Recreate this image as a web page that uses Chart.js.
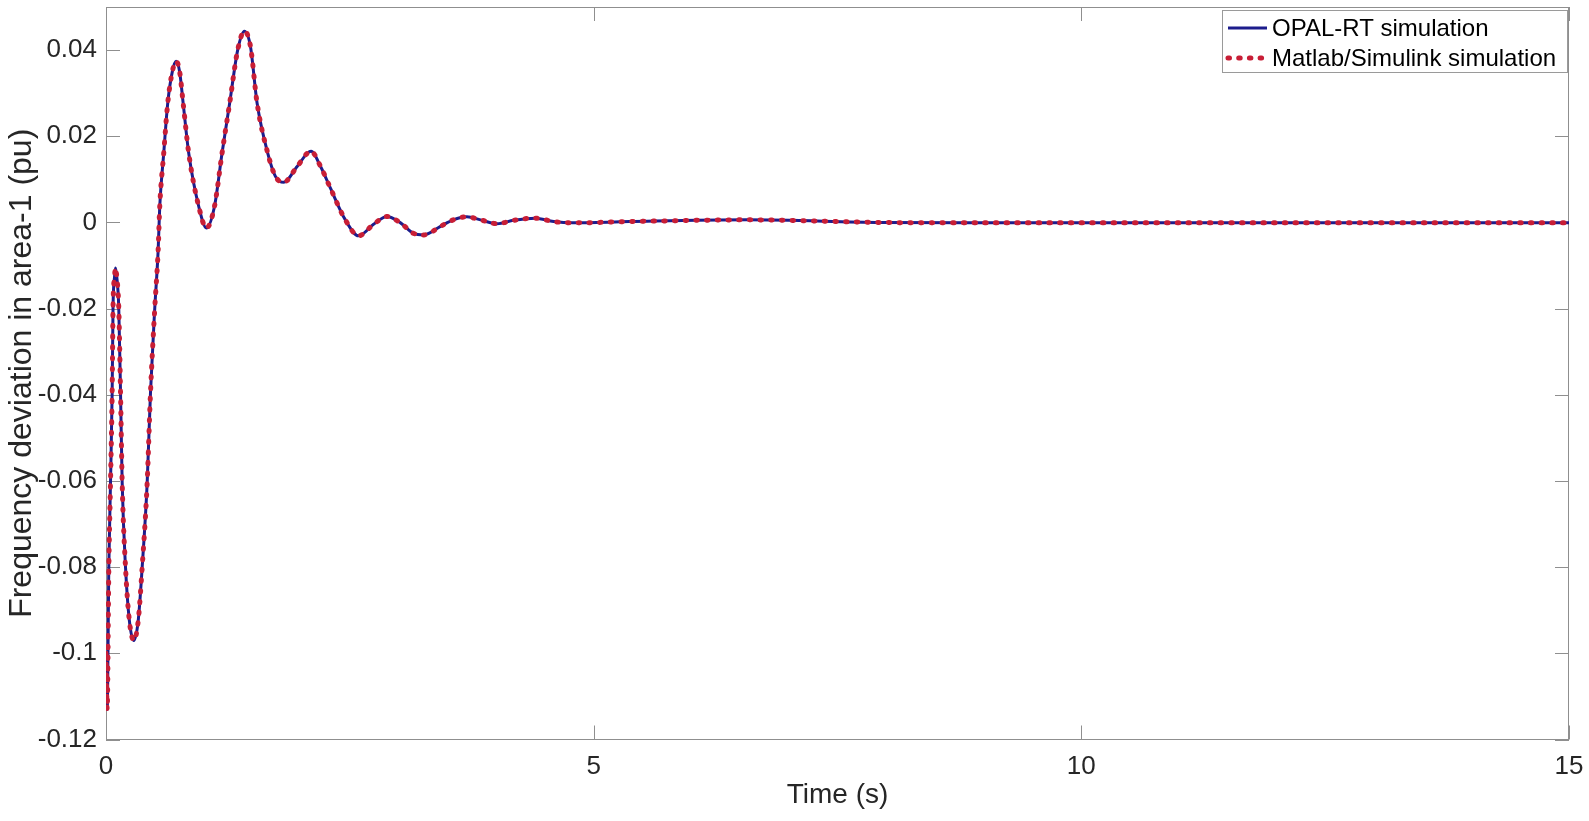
<!DOCTYPE html>
<html>
<head>
<meta charset="utf-8">
<title>Frequency deviation in area-1</title>
<script src="https://cdn.jsdelivr.net/npm/chart.js@4/dist/chart.umd.min.js"></script>
<style>
  html, body { margin: 0; padding: 0; background: #fff; }
  #wrap { position: relative; width: 1589px; height: 821px; }
</style>
</head>
<body>
<div id="wrap"><canvas id="freq-chart"></canvas></div>
<script>
/* freq-chart — OPAL-RT vs Matlab/Simulink, area-1 frequency deviation */

// ── DATA ──────────────────────────────────────────────────────────────────────
const timeS = [
  0.000, 0.012, 0.029, 0.046, 0.063, 0.072, 0.088, 0.097, 0.110, 0.131,
  0.149, 0.166, 0.200, 0.240, 0.285, 0.330, 0.371, 0.422, 0.456, 0.500,
  0.535, 0.551, 0.592, 0.633, 0.680, 0.719, 0.755, 0.791, 0.848, 0.951,
  1.030, 1.112, 1.190, 1.268, 1.350, 1.419, 1.480, 1.549, 1.658, 1.737,
  1.822, 1.960, 2.102, 2.200, 2.300, 2.454, 2.590, 2.740, 2.880, 3.020,
  3.150, 3.260, 3.430, 3.560, 3.700, 3.840, 4.010, 4.180, 4.400, 4.590,
  4.780, 5.370, 6.570, 7.940, 9.000, 10.000, 11.000, 12.000, 13.000, 14.000,
  15.000
];

const opalRt = [
  -0.1000, -0.1130, -0.0800, -0.0605, -0.0396, -0.0200, -0.0125, -0.0106, -0.0125, -0.0199,
  -0.0396, -0.0605, -0.0800, -0.0925, -0.0970, -0.0925, -0.0800, -0.0605, -0.0396, -0.0199,
  -0.0063,  0.0037,  0.0161,  0.0277,  0.0350,  0.0374,  0.0350,  0.0277,  0.0161,  0.0037,
  -0.0013,  0.0037,  0.0161,  0.0277,  0.0400,  0.0444,  0.0410,  0.0277,  0.0161,  0.0107,
   0.0093,  0.0130,  0.0165,  0.0130,  0.0080,  0.0006, -0.0031, -0.0005,  0.0014, -0.0001,
  -0.0025, -0.0029, -0.0009,  0.0006,  0.0013,  0.0006, -0.0003,  0.0005,  0.0010,  0.0002,
  -0.0001,  0.0002,  0.0006,  0.0000, -0.0001, -0.0001, -0.0001, -0.0001, -0.0001, -0.0001,
  -0.0001
];

const simulink = [
  -0.1000, -0.1130, -0.0800, -0.0605, -0.0396, -0.0200, -0.0125, -0.0106, -0.0125, -0.0199,
  -0.0396, -0.0605, -0.0800, -0.0925, -0.0970, -0.0925, -0.0800, -0.0605, -0.0396, -0.0199,
  -0.0063,  0.0037,  0.0161,  0.0277,  0.0350,  0.0374,  0.0350,  0.0277,  0.0161,  0.0037,
  -0.0013,  0.0037,  0.0161,  0.0277,  0.0400,  0.0444,  0.0410,  0.0277,  0.0161,  0.0107,
   0.0093,  0.0130,  0.0165,  0.0130,  0.0080,  0.0006, -0.0031, -0.0005,  0.0014, -0.0001,
  -0.0025, -0.0029, -0.0009,  0.0006,  0.0013,  0.0006, -0.0003,  0.0005,  0.0010,  0.0002,
  -0.0001,  0.0002,  0.0006,  0.0000, -0.0001, -0.0001, -0.0001, -0.0001, -0.0001, -0.0001,
  -0.0001
];

const seriesNames = ['OPAL-RT simulation', 'Matlab/Simulink simulation'];

const xTicks      = [0, 5, 10, 15];
const xTickLabels = ['0', '5', '10', '15'];
const yTicks      = [-0.12, -0.1, -0.08, -0.06, -0.04, -0.02, 0, 0.02, 0.04];
const yTickLabels = ['-0.12', '-0.1', '-0.08', '-0.06', '-0.04', '-0.02', '0', '0.02', '0.04'];

// ── STYLE ─────────────────────────────────────────────────────────────────────
const FONT       = "'Liberation Sans', Arial, Helvetica, sans-serif";
const AXIS_COLOR = '#8f8f8f';
const TEXT_COLOR = '#262626';
const BLUE       = '#1c1c8c';
const RED        = '#c81e36';
const TICK_LEN   = 14;

// Matlab-style box with inward ticks on all four sides
const matlabAxes = {
  id: 'matlabAxes',
  beforeDatasetsDraw(chart) {
    const { ctx, chartArea: a, scales: { x, y } } = chart;
    ctx.save();
    ctx.strokeStyle = AXIS_COLOR;
    ctx.lineWidth   = 1;
    ctx.beginPath();
    x.ticks.forEach(t => {
      const px = Math.round(x.getPixelForValue(t.value)) + 0.5;
      ctx.moveTo(px, a.bottom); ctx.lineTo(px, a.bottom - TICK_LEN);
      ctx.moveTo(px, a.top);    ctx.lineTo(px, a.top + TICK_LEN);
    });
    y.ticks.forEach(t => {
      const py = Math.round(y.getPixelForValue(t.value)) + 0.5;
      ctx.moveTo(a.left, py);  ctx.lineTo(a.left + TICK_LEN, py);
      ctx.moveTo(a.right, py); ctx.lineTo(a.right - TICK_LEN, py);
    });
    ctx.stroke();
    ctx.strokeRect(Math.round(a.left) + 0.5, Math.round(a.top) + 0.5,
                   Math.round(a.width) - 1, Math.round(a.height) - 1);
    ctx.restore();
  }
};

// Boxed legend in the upper right corner, inside the axes
const boxLegend = {
  id: 'boxLegend',
  afterDraw(chart) {
    const { ctx, chartArea: a } = chart;
    const W = 346, H = 63;
    const x0 = a.right - W - 1, y0 = a.top + 3;
    ctx.save();
    ctx.fillStyle   = '#fff';
    ctx.strokeStyle = '#9a9a9a';
    ctx.lineWidth   = 1;
    ctx.fillRect(x0, y0, W, H);
    ctx.strokeRect(x0 + 0.5, y0 + 0.5, W - 1, H - 1);

    ctx.font         = '24px ' + FONT;
    ctx.textAlign    = 'left';
    ctx.textBaseline = 'middle';
    const rows = [y0 + 18, y0 + 48];
    chart.data.datasets
      .slice()
      .sort((p, q) => p.legendIndex - q.legendIndex)
      .forEach((ds, i) => {
        const cy = rows[i];
        ctx.save();
        ctx.strokeStyle = ds.borderColor;
        ctx.lineWidth   = ds.borderWidth;
        ctx.lineCap     = ds.borderCapStyle || 'butt';
        ctx.setLineDash(ds.borderDash || []);
        ctx.beginPath();
        ctx.moveTo(x0 + 6, cy);
        ctx.lineTo(x0 + 45, cy);
        ctx.stroke();
        ctx.restore();
        ctx.fillStyle = '#000';
        ctx.fillText(ds.label, x0 + 50, cy + 1);
      });
    ctx.restore();
  }
};

// ── CHART ─────────────────────────────────────────────────────────────────────
function initFreqChart() {
  const canvas = document.getElementById('freq-chart');

  new Chart(canvas, {
    type: 'line',
    data: {
      labels: timeS,
      datasets: [
        {
          label:          seriesNames[1],
          legendIndex:    1,
          data:           timeS.map((t, i) => ({ x: t, y: simulink[i] })),
          borderColor:    RED,
          borderWidth:    5,
          borderDash:     [1.5, 9.2],
          borderCapStyle: 'round',
          pointRadius:    0,
          cubicInterpolationMode: 'monotone',
          fill:           false,
          order:          1
        },
        {
          label:       seriesNames[0],
          legendIndex: 0,
          data:        timeS.map((t, i) => ({ x: t, y: opalRt[i] })),
          borderColor: BLUE,
          borderWidth: 3,
          pointRadius: 0,
          cubicInterpolationMode: 'monotone',
          fill:        false,
          order:       2
        }
      ]
    },
    options: {
      responsive:          true,
      maintainAspectRatio: false,
      animation:           false,
      layout: { padding: { left: 0, top: 7, right: 20, bottom: 0 } },
      plugins: {
        legend:  { display: false },
        tooltip: { enabled: false }
      },
      scales: {
        x: {
          type: 'linear',
          min:  0,
          max:  15,
          grid:   { display: false, drawTicks: false },
          border: { display: false },
          afterBuildTicks: s => { s.ticks = xTicks.map(v => ({ value: v })); },
          afterFit:        s => { s.height = 81.5; s.paddingLeft = 0; s.paddingRight = 0; },
          ticks: {
            color:       TEXT_COLOR,
            font:        { family: FONT, size: 26 },
            padding:     12,
            maxRotation: 0,
            callback:    v => xTickLabels[xTicks.indexOf(v)]
          },
          title: {
            display: true,
            text:    'Time (s)',
            color:   TEXT_COLOR,
            font:    { family: FONT, size: 28 },
            padding: { top: 0, bottom: 9 }
          }
        },
        y: {
          min: -0.12,
          max: 0.05,
          grid:   { display: false, drawTicks: false },
          border: { display: false },
          afterBuildTicks: s => { s.ticks = yTicks.map(v => ({ value: v })); },
          afterFit:        s => { s.width = 106; s.paddingTop = 0; s.paddingBottom = 0; },
          ticks: {
            color:    TEXT_COLOR,
            font:     { family: FONT, size: 26 },
            padding:  9,
            callback: v => yTickLabels[yTicks.findIndex(t => Math.abs(t - v) < 1e-9)]
          },
          title: {
            display: true,
            text:    'Frequency deviation in area-1 (pu)',
            color:   TEXT_COLOR,
            font:    { family: FONT, size: 32 },
            padding: { top: 3, bottom: 0 }
          }
        }
      }
    },
    plugins: [matlabAxes, boxLegend]
  });
}

// ── INIT ──────────────────────────────────────────────────────────────────────
document.addEventListener('DOMContentLoaded', initFreqChart);
</script>
</body>
</html>
